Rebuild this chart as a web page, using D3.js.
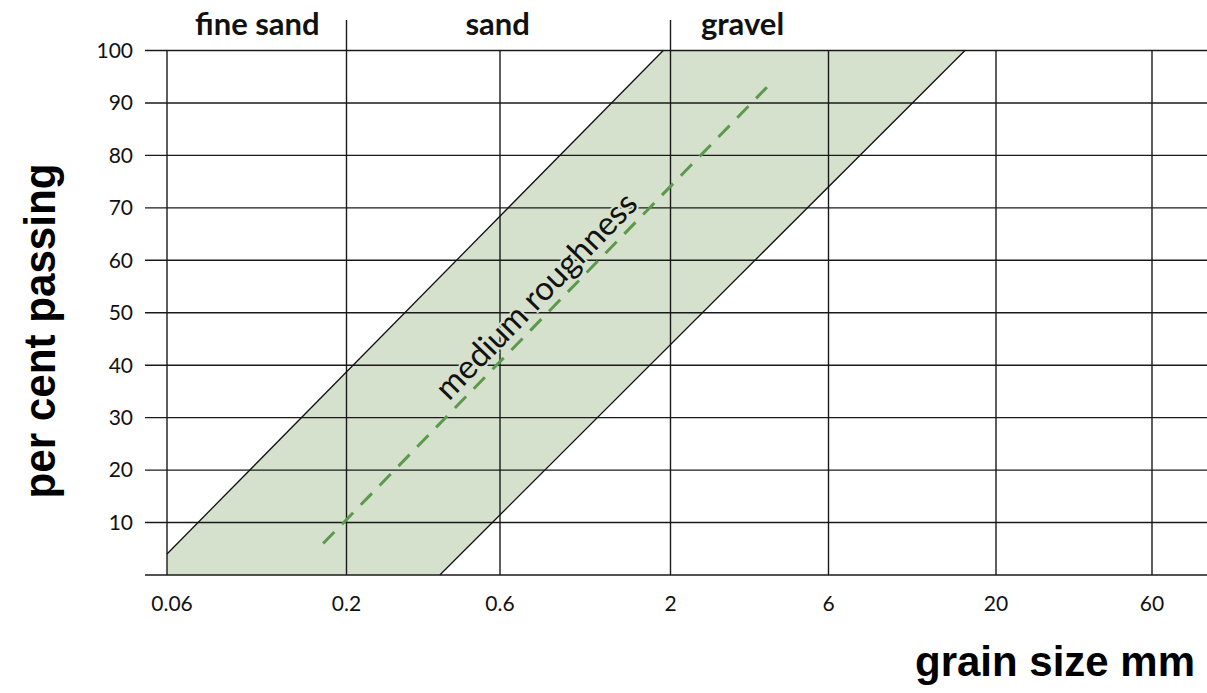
<!DOCTYPE html>
<html><head><meta charset="utf-8">
<script src="https://cdn.jsdelivr.net/npm/d3@7"></script>
<style>
body{margin:0;background:#fff;}
svg{display:block;}
</style></head>
<body>
<svg id="chart" width="1207" height="693"></svg>
<script>
// ---- data ----
const xTicks = [0.06, 0.2, 0.6, 2, 6, 20, 60];
const xTickLabels = ["0.06", "0.2", "0.6", "2", "6", "20", "60"];
const yTicks = [10, 20, 30, 40, 50, 60, 70, 80, 90, 100];
const zoneNames = ["fine sand", "sand", "gravel"];
const zoneLabelX = [0.11, 0.59, 3.3];
const zoneBounds = [0.2, 2];
// band (grain size mm, per cent passing)
const bandFineX = [0.06, 0.06, 1.9];
const bandFineY = [0, 4, 100];
const bandCoarseX = [16, 0.39];
const bandCoarseY = [100, 0];
// medium roughness curve
const medianX = [0.171, 3.91];
const medianY = [6, 93];
const bandLabel = "medium roughness";
const bandLabelPos = [0.82, 51.7];

// ---- layout ----
const svg = d3.select("#chart");
const x = d3.scaleLog().domain(xTicks).range([167, 346.5, 500, 670.5, 828.5, 996, 1152]);
const y = d3.scaleLinear().domain([0, 100]).range([575, 50.5]);
const gridLeft = 145, gridRight = 1207;
const bandColor = "#d5e1cd";

// band fill
const bandPts = bandFineX.map((v, i) => [v, bandFineY[i]])
  .concat(bandCoarseX.map((v, i) => [v, bandCoarseY[i]]));
svg.append("path")
  .attr("d", d3.line().x(d => x(d[0])).y(d => y(d[1]))(bandPts) + "Z")
  .attr("fill", bandColor);

// grid
const grid = svg.append("g").attr("stroke", "#1a1a1a").attr("stroke-width", 1.4);
grid.selectAll("line.h").data([0].concat(yTicks)).join("line")
  .attr("x1", gridLeft).attr("x2", gridRight)
  .attr("y1", d => y(d)).attr("y2", d => y(d));
grid.selectAll("line.v").data(xTicks).join("line")
  .attr("x1", d => x(d)).attr("x2", d => x(d))
  .attr("y1", y(100)).attr("y2", y(0));
// zone dividers
grid.selectAll("line.z").data(zoneBounds).join("line")
  .attr("x1", d => x(d)).attr("x2", d => x(d))
  .attr("y1", 20).attr("y2", y(100));

// band edges
const edge = d3.line().x(d => x(d[0])).y(d => y(d[1]));
svg.append("path").attr("d", edge([[bandFineX[1], bandFineY[1]], [bandFineX[2], bandFineY[2]]]))
  .attr("stroke", "#111").attr("stroke-width", 1.3).attr("fill", "none");
svg.append("path").attr("d", edge(bandCoarseX.map((v, i) => [v, bandCoarseY[i]])))
  .attr("stroke", "#111").attr("stroke-width", 1.3).attr("fill", "none");

// median dashed line
svg.append("path").attr("d", edge(medianX.map((v, i) => [v, medianY[i]])))
  .attr("stroke", "#5b9a4c").attr("stroke-width", 3).attr("fill", "none")
  .attr("stroke-dasharray", "16 11");

// band label
const p0 = [x(medianX[0]), y(medianY[0])], p1 = [x(medianX[1]), y(medianY[1])];
const ang = Math.atan2(p1[1] - p0[1], p1[0] - p0[0]) * 180 / Math.PI;
svg.append("text")
  .attr("transform", `translate(${x(bandLabelPos[0])},${y(bandLabelPos[1])}) rotate(${ang})`)
  .attr("text-anchor", "middle")
  .attr("font-family", "Lato, 'Noto Sans', sans-serif")
  .attr("font-size", 33)
  .attr("fill", "#111")
  .attr("stroke", bandColor).attr("stroke-width", 4)
  .attr("paint-order", "stroke")
  .text(bandLabel);

// x tick labels
svg.append("g").selectAll("text").data(xTicks).join("text")
  .attr("x", d => x(d) + (d === 0.06 ? 5 : 0)).attr("y", 611)
  .attr("text-anchor", "middle")
  .attr("font-family", "Lato, 'Noto Sans', sans-serif")
  .attr("font-size", 21).attr("fill", "#111")
  .text((d, i) => xTickLabels[i]);

// y tick labels
svg.append("g").selectAll("text").data(yTicks).join("text")
  .attr("x", 133).attr("y", d => y(d)).attr("dy", "0.35em")
  .attr("text-anchor", "end")
  .attr("font-family", "Lato, 'Noto Sans', sans-serif")
  .attr("font-size", 21).attr("fill", "#111")
  .text(d => d);

// zone names
svg.append("g").selectAll("text").data(zoneNames).join("text")
  .attr("x", (d, i) => x(zoneLabelX[i])).attr("y", 35)
  .attr("text-anchor", "middle")
  .attr("font-family", "Lato, 'Noto Sans', sans-serif")
  .attr("font-weight", "bold")
  .attr("font-size", 31).attr("fill", "#111")
  .text(d => d);

// axis titles
svg.append("text")
  .attr("x", 915).attr("y", 676)
  .attr("font-family", "'Liberation Sans', Arial, sans-serif")
  .attr("font-weight", "bold").attr("font-size", 43).attr("fill", "#000")
  .attr("textLength", 280).attr("lengthAdjust", "spacingAndGlyphs")
  .text("grain size mm");
svg.append("text")
  .attr("transform", "translate(55,331) rotate(-90)")
  .attr("text-anchor", "middle")
  .attr("font-family", "'Liberation Sans', Arial, sans-serif")
  .attr("font-weight", "bold").attr("font-size", 45).attr("fill", "#000")
  .attr("textLength", 335).attr("lengthAdjust", "spacingAndGlyphs")
  .text("per cent passing");
</script>
</body></html>
